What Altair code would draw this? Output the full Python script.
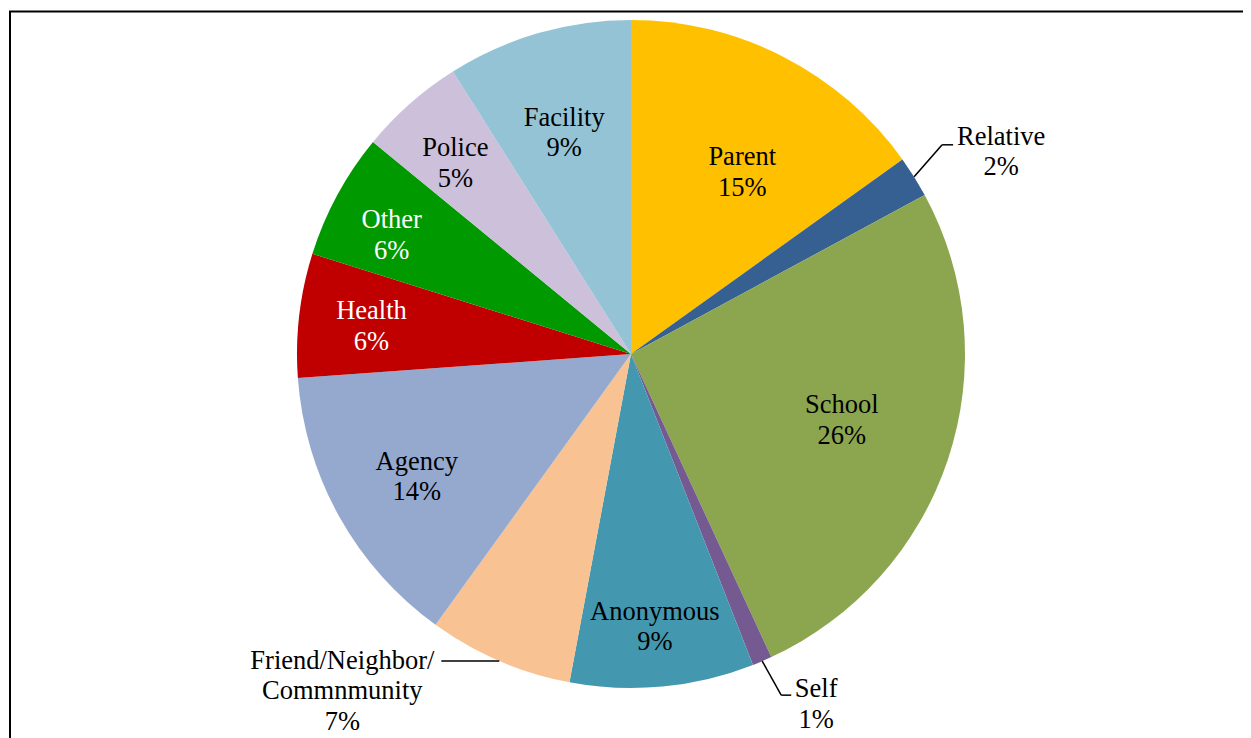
import altair as alt
import pandas as pd

# ---------------- data ----------------
categories = ["Parent", "Relative", "School", "Self", "Anonymous",
              "Friend/Neighbor/Commnmunity", "Agency", "Health", "Other",
              "Police", "Facility"]
display_names = ["Parent", "Relative", "School", "Self", "Anonymous",
                 "Friend/Neighbor/\nCommnmunity", "Agency", "Health", "Other",
                 "Police", "Facility"]
values = [15.1, 2.0, 26.0, 0.95, 8.9, 7.0, 13.9, 6.0, 6.1, 5.1, 8.95]
pct_labels = ["15%", "2%", "26%", "1%", "9%", "7%", "14%", "6%", "6%", "5%", "9%"]
colors = ["#FFC000", "#376092", "#8BA64F", "#755A91", "#4397AF", "#F9C292",
          "#95A9CF", "#C00000", "#009900", "#CCC0DA", "#93C3D5"]

# ---------------- layout / style ----------------
W, H = 1233, 735          # view size
CX, CY = 621, 343         # pie centre inside the view
R = 334                   # pie radius
FONT = "Liberation Serif"
FS = 26.5
LH = 30.5

# inside labels: (radius, angle shift in degrees) relative to the slice middle
LABEL_POS = {"Parent": (213, 4.3), "School": (221, -0.9), "Anonymous": (274, 0.4),
             "Agency": (247, -0.7), "Health": (261, -0.6), "Other": (267, -2.1),
             "Police": (259, -1.3), "Facility": (231, -0.7)}
# outside labels: elbow offset from the slice edge, horizontal run, text offset
LEADERS = {
    "Relative": dict(bx=28, by=32, h=11, ox=48, oy=8),
    "Self": dict(bx=19, by=-34, h=10, ox=25, oy=6),
    "Friend/Neighbor/Commnmunity": dict(bx=0, by=0, h=-58, ox=-99, oy=0),
}
WHITE_TEXT = ["Health", "Other"]


def case_expr(mapping, default):
    expr = str(default)
    for k, v in mapping.items():
        expr = f"datum.category === '{k}' ? {v} : ({expr})"
    return expr


df = pd.DataFrame({
    "idx": list(range(len(categories))),
    "category": categories,
    "value": values,
    "label": [n + "\n" + p for n, p in zip(display_names, pct_labels)],
})

xscale = alt.Scale(domain=[-CX, W - CX], nice=False, zero=False)
yscale = alt.Scale(domain=[CY - H, CY], nice=False, zero=False)

pie = alt.Chart(df).mark_arc(outerRadius=R).encode(
    theta=alt.Theta("value:Q", stack=True),
    order=alt.Order("idx:Q", sort="ascending"),
    color=alt.Color("category:N", scale=alt.Scale(domain=categories, range=colors),
                    legend=None),
    x=alt.value(CX),
    y=alt.value(CY),
)

base = alt.Chart(df).transform_window(
    cum="sum(value)", sort=[alt.SortField("idx", order="ascending")], frame=[None, 0]
).transform_joinaggregate(
    total="sum(value)"
).transform_calculate(
    ang="2 * PI * (datum.cum - datum.value / 2) / datum.total"
)

text_kw = dict(font=FONT, fontSize=FS, lineBreak="\n", lineHeight=LH,
               align="center", baseline="middle")

inside = base.transform_filter(
    alt.FieldOneOfPredicate(field="category", oneOf=list(LABEL_POS))
).transform_calculate(
    lr=case_expr({k: v[0] for k, v in LABEL_POS.items()}, 240)
).transform_calculate(
    la=case_expr({k: v[1] for k, v in LABEL_POS.items()}, 0)
).transform_calculate(
    a2="datum.ang + datum.la * PI / 180"
).transform_calculate(
    lx="datum.lr * sin(datum.a2)"
).transform_calculate(
    ly="datum.lr * cos(datum.a2)"
).mark_text(dy=-LH / 2, **text_kw).encode(
    x=alt.X("lx:Q", scale=xscale, axis=None),
    y=alt.Y("ly:Q", scale=yscale, axis=None),
    text="label:N",
    color=alt.when(alt.FieldOneOfPredicate(field="category", oneOf=WHITE_TEXT))
    .then(alt.value("white")).otherwise(alt.value("black")),
)

lead = base.transform_filter(
    alt.FieldOneOfPredicate(field="category", oneOf=list(LEADERS))
)
for key in ["bx", "by", "h", "ox", "oy"]:
    lead = lead.transform_calculate(
        **{key: case_expr({k: v[key] for k, v in LEADERS.items()}, 0)})
lead = lead.transform_calculate(
    xa=f"{R} * sin(datum.ang)"
).transform_calculate(
    ya=f"{R} * cos(datum.ang)"
).transform_calculate(
    xb="datum.xa + datum.bx"
).transform_calculate(
    yb="datum.ya + datum.by"
).transform_calculate(
    xc="datum.xb + datum.h"
).transform_calculate(
    tx="datum.xc + datum.ox"
).transform_calculate(
    ty="datum.yb + datum.oy"
)

radial = lead.mark_rule(color="black", strokeWidth=1.5).encode(
    x=alt.X("xa:Q", scale=xscale, axis=None),
    y=alt.Y("ya:Q", scale=yscale, axis=None),
    x2="xb:Q",
    y2="yb:Q",
)
horiz = lead.mark_rule(color="black", strokeWidth=1.5).encode(
    x=alt.X("xb:Q", scale=xscale, axis=None),
    x2="xc:Q",
    y=alt.Y("yb:Q", scale=yscale, axis=None),
)
outside = lead.mark_text(color="black", **text_kw).encode(
    x=alt.X("tx:Q", scale=xscale, axis=None),
    y=alt.Y("ty:Q", scale=yscale, axis=None),
    text="label:N",
)

# frame: left and top border lines (right/bottom lie outside the window)
frame_src = pd.DataFrame({"edge": ["frame"]})
frame_left = alt.Chart(frame_src).mark_rule(color="black", strokeWidth=2).encode(
    x=alt.value(0), y=alt.value(0), y2=alt.value(H))
frame_top = alt.Chart(frame_src).mark_rule(color="black", strokeWidth=2).encode(
    x=alt.value(-1), x2=alt.value(W), y=alt.value(0.5))

chart = alt.layer(pie, inside, radial, horiz, outside, frame_left, frame_top).properties(
    width=W, height=H,
    padding={"left": 2, "top": 3, "right": 0, "bottom": 0},
    autosize="none",
    background="white",
).configure_view(stroke=None)

chart.save("out.html", embed_options={"renderer": "svg", "actions": False})
